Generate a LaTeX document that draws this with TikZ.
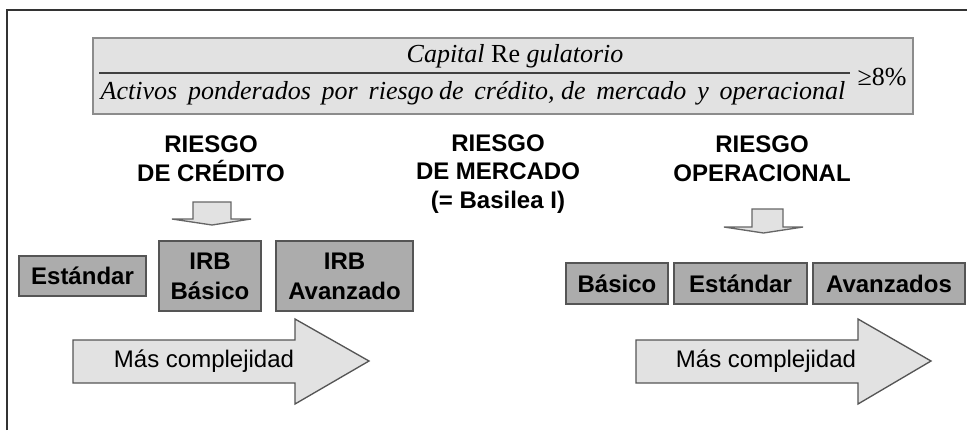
\documentclass[tikz,border=0pt]{standalone}
\usepackage{fontspec}
\setmainfont{Liberation Serif}
\setsansfont{Liberation Sans}
\usetikzlibrary{positioning}

\definecolor{boxgray}{RGB}{172,172,172}
\definecolor{palegray}{RGB}{226,226,226}
\definecolor{edgegray}{RGB}{85,85,85}

\begin{document}
\begin{tikzpicture}[x=0.75pt, y=-0.75pt,
    method/.style={draw=edgegray, fill=boxgray, line width=1pt, inner sep=0pt,
      font=\sffamily\bfseries\fontsize{18}{22.5}\selectfont, align=center},
    riesgo/.style={font=\sffamily\bfseries\fontsize{18}{21.5}\selectfont, align=center},
    bigarrow/.style={draw=edgegray, fill=palegray, line width=1pt},
    smallarrow/.style={draw=black!60, fill=palegray, line width=1pt},
    fraction/.style={font=\fontsize{19.5}{22}\selectfont\itshape}]

    \useasboundingbox (0,0) rectangle (967,430);

    % frame: only the top and left sides show
    \draw[line width=1.6pt, black!80] (7,430) -- (7,10) -- (967,10);

    % the ratio of regulatory capital in a grey box
    \draw[draw=black!45, fill=palegray, line width=1pt] (93,38) rectangle (913,114);
    \draw[line width=1.2pt, black!75] (99,73) -- (850,73);
    \node[fraction] (num) at (515,56) {Capital \upshape Re \itshape gulatorio};
    \node[fraction] (den) at (473,93)
      {Activos\, ponderados\, por\, riesgo\hspace{4pt}de\, crédito, de\, mercado\, y\, operacional};
    \node[font=\fontsize{19.5}{22}\selectfont, anchor=west] (ratio) at (853,77) {≥8\%};

    % the three risks
    \node[riesgo] (credito) at (211,159) {RIESGO\\DE CRÉDITO};
    \node[riesgo] (mercado) at (498,174) {RIESGO\\DE MERCADO\\(= Basilea I)};
    \node[riesgo] (operac) at (762,159) {RIESGO\\OPERACIONAL};

    % flat arrows pointing down to the methods
    \draw[smallarrow] (193,202) -- (231,202) -- (231,219) -- (251,219)
      -- (212,225) -- (172,219) -- (193,219) -- cycle;
    \draw[smallarrow] (752,209) -- (783,209) -- (783,227) -- (803,227)
      -- (763.5,233) -- (724,227) -- (752,227) -- cycle;

    % credit risk methods
    \node[method, minimum width=95.25pt, minimum height=30pt] (estandar) at (82.5,276) {Estándar};
    \node[method, minimum width=76.5pt, minimum height=52.5pt] (irbbas) at (210,276) {IRB\\Básico};
    \node[method, minimum width=102.75pt, minimum height=52.5pt] (irbava) at (344.5,276) {IRB\\Avanzado};

    % operational risk methods
    \node[method, minimum width=76.5pt, minimum height=30.75pt] (basico) at (617,283.5) {Básico};
    \node[method, minimum width=99.75pt, minimum height=30.75pt] (estandarop) at (740.5,283.5) {Estándar};
    \node[method, minimum width=114pt, minimum height=30.75pt] (avanzados) at (889,283.5) {Avanzados};

    % big arrows for the complexity
    \draw[bigarrow] (73,340) -- (295,340) -- (295,319) -- (369,361)
      -- (295,404) -- (295,383) -- (73,383) -- cycle;
    \node[font=\sffamily\fontsize{18}{21}\selectfont] (mas1) at (204,361) {Más complejidad};
    \draw[bigarrow] (636,340) -- (858,340) -- (858,319) -- (931,361)
      -- (858,404) -- (858,383) -- (636,383) -- cycle;
    \node[font=\sffamily\fontsize{18}{21}\selectfont] (mas2) at (766,361) {Más complejidad};

\end{tikzpicture}
\end{document}
